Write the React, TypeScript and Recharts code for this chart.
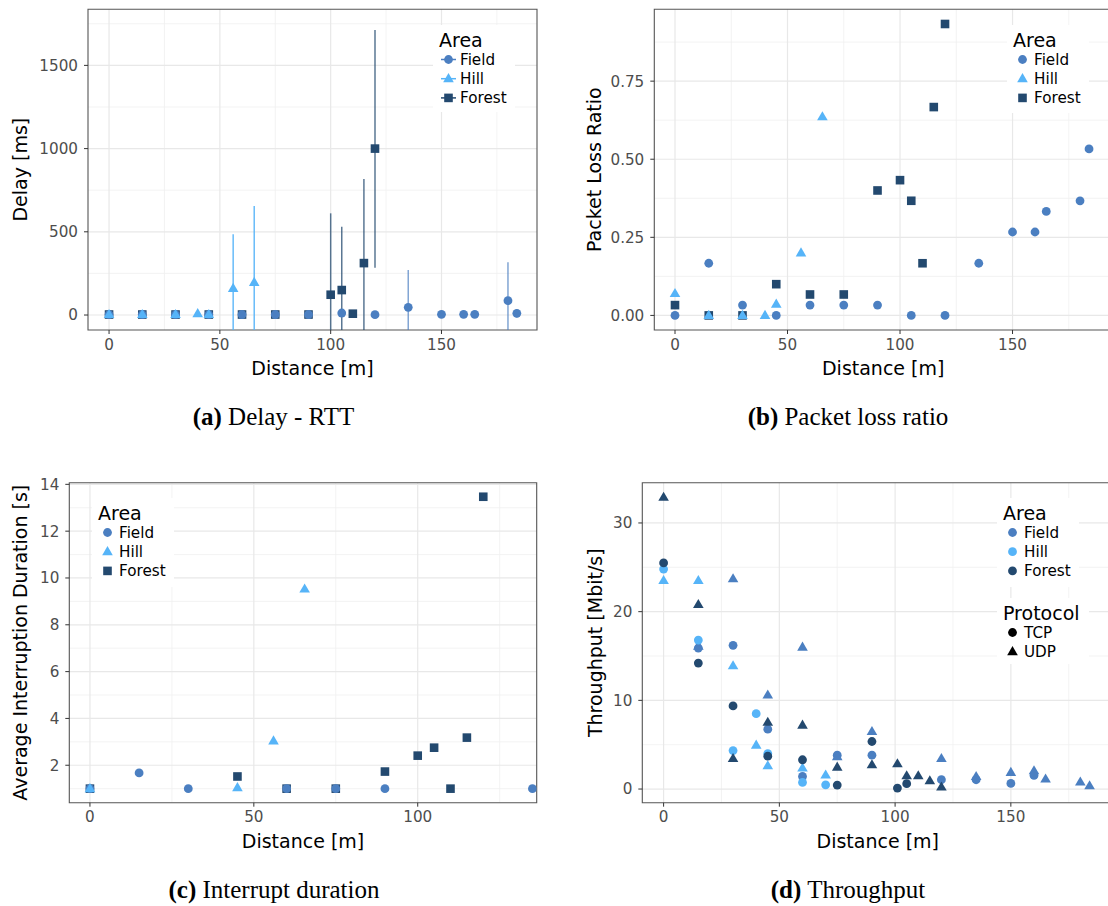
import React from "react";
import { CartesianGrid, ErrorBar, Legend, ReferenceArea, Scatter, ScatterChart, XAxis, YAxis } from "recharts";

const FIELD = "#4b7fc1";
const HILL = "#56b4f8";
const FOREST = "#23496f";
const FONT = "DejaVu Sans";
const SERIF = "Liberation Serif";

// (a) Delay - RTT [ms]; lo / hi are the ends of the error bars (cut at the panel bottom)
const delayFieldX = [0, 15, 30, 45, 60, 75, 90, 105, 120, 135, 150, 160, 165, 180, 184];
const delayFieldY = [3, 3, 3, 3, 3, 3, 3, 12, 2, 46, 4, 4, 4, 86, 10];
const delayFieldLo = [3, 3, 3, 3, 3, 3, 3, 12, 2, -90, 4, 4, 4, -90, -15];
const delayFieldHi = [3, 3, 3, 3, 3, 3, 3, 12, 2, 270, 4, 4, 4, 317, 35];
const delayHillX = [0, 15, 30, 40, 45, 56, 65.5];
const delayHillY = [3, 3, 3, 8, 3, 160, 196];
const delayHillLo = [3, 3, 3, 8, 3, -90, -90];
const delayHillHi = [3, 3, 3, 8, 3, 485, 655];
const delayForestX = [0, 15, 30, 45, 60, 75, 90, 100, 105, 110, 115, 120];
const delayForestY = [3, 3, 3, 3, 3, 3, 3, 122, 150, 8, 312, 1000];
const delayForestLo = [3, 3, 3, 3, 3, 3, 3, -90, -90, 8, -90, 284];
const delayForestHi = [3, 3, 3, 3, 3, 3, 3, 611, 531, 8, 817, 1713];

// (b) Packet loss ratio
const lossFieldX = [0, 15, 30, 45, 60, 75, 90, 105, 120, 135, 150, 160, 165, 180, 184];
const lossFieldY = [0, 0.167, 0.033, 0, 0.033, 0.033, 0.033, 0, 0, 0.167, 0.267, 0.267, 0.333, 0.367, 0.533];
const lossHillX = [0, 15, 30, 40, 45, 56, 65.5];
const lossHillY = [0.07, 0, 0, 0, 0.036, 0.2, 0.636];
const lossForestX = [0, 15, 30, 45, 60, 75, 90, 100, 105, 110, 115, 120];
const lossForestY = [0.033, 0, 0, 0.1, 0.067, 0.067, 0.4, 0.433, 0.367, 0.167, 0.667, 0.933];

// (c) Average interruption duration [s]
const intFieldX = [0, 15, 30, 60, 75, 90, 135];
const intFieldY = [1, 1.67, 1, 1, 1, 1, 1];
const intHillX = [0, 45, 56, 65.5];
const intHillY = [1, 1.04, 3.04, 9.53];
const intForestX = [0, 45, 60, 75, 90, 100, 105, 110, 115, 120];
const intForestY = [1, 1.52, 1, 1, 1.73, 2.41, 2.75, 1, 3.18, 13.47];

// (d) Throughput [Mbit/s]
const thrFieldTcpX = [15, 30, 45, 60, 75, 90, 120, 135, 150, 160];
const thrFieldTcpY = [15.9, 16.2, 6.75, 1.42, 3.82, 3.82, 1.05, 1.05, 0.63, 1.53];
const thrFieldUdpX = [15, 30, 45, 60, 75, 90, 120, 135, 150, 160, 165, 180, 184];
const thrFieldUdpY = [16.1, 23.7, 10.6, 16.0, 3.65, 6.48, 3.44, 1.4, 1.87, 2.06, 1.12, 0.79, 0.37];
const thrHillTcpX = [0, 15, 30, 40, 45, 60, 70];
const thrHillTcpY = [24.8, 16.8, 4.34, 8.5, 4.0, 0.75, 0.48];
const thrHillUdpX = [0, 15, 30, 40, 45, 60, 70];
const thrHillUdpY = [23.5, 23.5, 13.9, 4.95, 2.62, 2.36, 1.57];
const thrForestTcpX = [0, 15, 30, 45, 60, 75, 90, 101, 105];
const thrForestTcpY = [25.5, 14.2, 9.37, 3.71, 3.3, 0.45, 5.36, 0.11, 0.6];
const thrForestUdpX = [0, 15, 30, 45, 60, 75, 90, 101, 105, 110, 115, 120];
const thrForestUdpY = [32.9, 20.8, 3.44, 7.53, 7.2, 2.47, 2.73, 2.85, 1.5, 1.5, 0.93, 0.22];

const distTicks = [0, 50, 100, 150];
const distMinor = [25, 75, 125, 175];

type Shape = "circle" | "triangle" | "square";

function marker(shape: Shape, cx: number, cy: number, color: string) {
  if (shape === "circle") return <circle cx={cx} cy={cy} r={4.4} fill={color} />;
  if (shape === "square") return <rect x={cx - 4.3} y={cy - 4.3} width={8.6} height={8.6} fill={color} />;
  return <polygon points={`${cx},${cy - 5.6} ${cx + 5.3},${cy + 3.5} ${cx - 5.3},${cy + 3.5}`} fill={color} />;
}

const dot = (shape: Shape, color: string) => (p: any) =>
  p.cx == null ? <g /> : marker(shape, p.cx, p.cy, color);

const points = (xs: number[], ys: number[]) => xs.map((x, i) => ({ x, y: ys[i] }));
const withErr = (xs: number[], ys: number[], lo: number[], hi: number[]) =>
  xs.map((x, i) => ({ x, y: ys[i], err: [ys[i] - lo[i], hi[i] - ys[i]] }));

type Key = { label: string; shape: Shape; color: string };

const areaKeys: Key[] = [
  { label: "Field", shape: "circle", color: FIELD },
  { label: "Hill", shape: "triangle", color: HILL },
  { label: "Forest", shape: "square", color: FOREST },
];
const areaDots: Key[] = [
  { label: "Field", shape: "circle", color: FIELD },
  { label: "Hill", shape: "circle", color: HILL },
  { label: "Forest", shape: "circle", color: FOREST },
];
const protoKeys: Key[] = [
  { label: "TCP", shape: "circle", color: "#000" },
  { label: "UDP", shape: "triangle", color: "#000" },
];

function LegendGroup({ y, w, h, title, keys, line }: { y: number; w: number; h: number; title: string; keys: Key[]; line?: boolean }) {
  return (
    <g transform={`translate(0, ${y})`}>
      <rect x={0} y={0} width={w} height={h} fill="#fff" />
      <text x={6} y={21.5} fontSize={19} fontFamily={FONT} fill="#000">{title}</text>
      {keys.map((k, i) => {
        const cy = 34.5 + i * 19.2;
        return (
          <g key={k.label}>
            {line && <line x1={8} x2={23} y1={cy} y2={cy} stroke={k.color} strokeWidth={1.5} />}
            {marker(k.shape, 15.5, cy, k.color)}
            <text x={27} y={cy + 5.5} fontSize={15.2} fontFamily={FONT} fill="#000">{k.label}</text>
          </g>
        );
      })}
    </g>
  );
}

type PanelProps = {
  left: number;
  top: number;
  width: number;
  height: number;
  margin: { top: number; right: number; bottom: number; left: number };
  yWidth: number;
  yTitle: string;
  yTitleX: number;
  xDomain: [number, number];
  yDomain: [number, number];
  xTicks: number[];
  xMinor: number[];
  yTicks: number[];
  yMinor: number[];
  yFormat?: (v: number) => string;
  legendBox: { left: number; top: number; width: number; height: number };
  legend: React.ReactNode;
  children: React.ReactNode;
};

function Panel(p: PanelProps) {
  const tick = { fill: "#4d4d4d", fontSize: 15.2, fontFamily: FONT };
  return (
    <div style={{ position: "absolute", left: p.left, top: p.top }}>
      <ScatterChart width={p.width} height={p.height} margin={p.margin} style={{ fontFamily: FONT }}>
        <CartesianGrid verticalValues={p.xMinor} horizontalValues={p.yMinor} stroke="#f0f0f0" strokeWidth={0.8} />
        <CartesianGrid verticalValues={p.xTicks} horizontalValues={p.yTicks} stroke="#e8e8e8" strokeWidth={1.2} />
        <XAxis
          type="number"
          dataKey="x"
          domain={p.xDomain}
          ticks={p.xTicks}
          interval={0}
          allowDataOverflow
          axisLine={false}
          tickSize={4}
          tickMargin={5}
          tickLine={{ stroke: "#333" }}
          tick={tick}
          height={50}
          label={{
            content: (l: any) => (
              <text x={l.viewBox.x + l.viewBox.width / 2} y={l.viewBox.y + 45} textAnchor="middle" fontSize={19} fontFamily={FONT} fill="#000">
                Distance [m]
              </text>
            ),
          }}
        />
        <YAxis
          type="number"
          dataKey="y"
          domain={p.yDomain}
          ticks={p.yTicks}
          interval={0}
          allowDataOverflow
          axisLine={false}
          width={p.yWidth}
          tickSize={4}
          tickMargin={6}
          tickLine={{ stroke: "#333" }}
          tick={tick}
          tickFormatter={p.yFormat}
          label={{
            content: (l: any) => (
              <text
                transform={`translate(${p.yTitleX}, ${l.viewBox.y + l.viewBox.height / 2}) rotate(-90)`}
                textAnchor="middle"
                fontSize={19}
                fontFamily={FONT}
                fill="#000"
              >
                {p.yTitle}
              </text>
            ),
          }}
        />
        <ReferenceArea x1={p.xDomain[0]} x2={p.xDomain[1]} y1={p.yDomain[0]} y2={p.yDomain[1]} fill="none" stroke="#555" strokeWidth={1.1} ifOverflow="visible" />
        {p.children}
        <Legend
          layout="vertical"
          align="center"
          verticalAlign="middle"
          wrapperStyle={{ left: p.legendBox.left, top: p.legendBox.top, width: p.legendBox.width, height: p.legendBox.height }}
          content={() => (
            <svg width={p.legendBox.width} height={p.legendBox.height} style={{ display: "block" }}>
              {p.legend}
            </svg>
          )}
        />
      </ScatterChart>
    </div>
  );
}

function Caption({ cx, top, tag, text }: { cx: number; top: number; tag: string; text: string }) {
  return (
    <div
      style={{
        position: "absolute",
        left: cx - 200,
        top,
        width: 400,
        textAlign: "center",
        fontFamily: SERIF,
        fontSize: 25,
        lineHeight: "28px",
        color: "#000",
      }}
    >
      <b>{tag}</b> {text}
    </div>
  );
}

export default function App() {
  return (
    <div style={{ position: "absolute", left: 0, top: 0, width: 1108, height: 906, overflow: "hidden", background: "#fff" }}>
      <Panel
        left={0}
        top={0}
        width={550}
        height={400}
        margin={{ top: 9.3, right: 13, bottom: 20, left: 18 }}
        yWidth={70}
        yTitle="Delay [ms]"
        yTitleX={27}
        xDomain={[-9.5, 193.1]}
        yDomain={[-90, 1837]}
        xTicks={distTicks}
        xMinor={distMinor}
        yTicks={[0, 500, 1000, 1500]}
        yMinor={[250, 750, 1250, 1750]}
        legendBox={{ left: 433, top: 25, width: 82, height: 87 }}
        legend={<LegendGroup y={0} w={82} h={87} title="Area" keys={areaKeys} line />}
      >
        <Scatter data={withErr(delayForestX, delayForestY, delayForestLo, delayForestHi)} shape={dot("square", FOREST)} isAnimationActive={false}>
          <ErrorBar dataKey="err" direction="y" width={0} stroke={FOREST} strokeWidth={1.5} strokeOpacity={0.75} />
        </Scatter>
        <Scatter data={withErr(delayFieldX, delayFieldY, delayFieldLo, delayFieldHi)} shape={dot("circle", FIELD)} isAnimationActive={false}>
          <ErrorBar dataKey="err" direction="y" width={0} stroke={FIELD} strokeWidth={1.5} strokeOpacity={0.7} />
        </Scatter>
        <Scatter data={withErr(delayHillX, delayHillY, delayHillLo, delayHillHi)} shape={dot("triangle", HILL)} isAnimationActive={false}>
          <ErrorBar dataKey="err" direction="y" width={0} stroke={HILL} strokeWidth={1.5} strokeOpacity={0.9} />
        </Scatter>
      </Panel>

      <Panel
        left={560}
        top={0}
        width={570}
        height={400}
        margin={{ top: 9.3, right: 17.9, bottom: 20, left: 24.3 }}
        yWidth={70}
        yTitle="Packet Loss Ratio"
        yTitleX={40.6}
        xDomain={[-9.2, 194.25]}
        yDomain={[-0.0467, 0.98]}
        xTicks={distTicks}
        xMinor={distMinor}
        yTicks={[0, 0.25, 0.5, 0.75]}
        yMinor={[0.125, 0.375, 0.625, 0.875]}
        yFormat={(v: number) => v.toFixed(2)}
        legendBox={{ left: 446.7, top: 25, width: 82, height: 88 }}
        legend={<LegendGroup y={0} w={82} h={88} title="Area" keys={areaKeys} />}
      >
        <Scatter data={points(lossForestX, lossForestY)} shape={dot("square", FOREST)} isAnimationActive={false} />
        <Scatter data={points(lossFieldX, lossFieldY)} shape={dot("circle", FIELD)} isAnimationActive={false} />
        <Scatter data={points(lossHillX, lossHillY)} shape={dot("triangle", HILL)} isAnimationActive={false} />
      </Panel>

      <Panel
        left={0}
        top={470}
        width={550}
        height={400}
        margin={{ top: 12.7, right: 13.3, bottom: 17.3, left: 14.3 }}
        yWidth={55}
        yTitle="Average Interruption Duration [s]"
        yTitleX={27}
        xDomain={[-6.3, 136.3]}
        yDomain={[0.4, 14.07]}
        xTicks={[0, 50, 100]}
        xMinor={[25, 75, 125]}
        yTicks={[2, 4, 6, 8, 10, 12, 14]}
        yMinor={[1, 3, 5, 7, 9, 11, 13]}
        legendBox={{ left: 92, top: 27.5, width: 82, height: 89 }}
        legend={<LegendGroup y={0} w={82} h={89} title="Area" keys={areaKeys} />}
      >
        <Scatter data={points(intForestX, intForestY)} shape={dot("square", FOREST)} isAnimationActive={false} />
        <Scatter data={points(intFieldX, intFieldY)} shape={dot("circle", FIELD)} isAnimationActive={false} />
        <Scatter data={points(intHillX, intHillY)} shape={dot("triangle", HILL)} isAnimationActive={false} />
      </Panel>

      <Panel
        left={560}
        top={470}
        width={570}
        height={400}
        margin={{ top: 12.7, right: 16.7, bottom: 17.3, left: 22.3 }}
        yWidth={60}
        yTitle="Throughput [Mbit/s]"
        yTitleX={42}
        xDomain={[-9.2, 194.25]}
        yDomain={[-1.54, 34.54]}
        xTicks={distTicks}
        xMinor={distMinor}
        yTicks={[0, 10, 20, 30]}
        yMinor={[5, 15, 25]}
        legendBox={{ left: 436.7, top: 27.7, width: 92, height: 166 }}
        legend={
          <>
            <LegendGroup y={0} w={82} h={89} title="Area" keys={areaDots} />
            <LegendGroup y={100} w={92} h={66} title="Protocol" keys={protoKeys} />
          </>
        }
      >
        <Scatter data={points(thrFieldTcpX, thrFieldTcpY)} shape={dot("circle", FIELD)} isAnimationActive={false} />
        <Scatter data={points(thrFieldUdpX, thrFieldUdpY)} shape={dot("triangle", FIELD)} isAnimationActive={false} />
        <Scatter data={points(thrHillTcpX, thrHillTcpY)} shape={dot("circle", HILL)} isAnimationActive={false} />
        <Scatter data={points(thrHillUdpX, thrHillUdpY)} shape={dot("triangle", HILL)} isAnimationActive={false} />
        <Scatter data={points(thrForestTcpX, thrForestTcpY)} shape={dot("circle", FOREST)} isAnimationActive={false} />
        <Scatter data={points(thrForestUdpX, thrForestUdpY)} shape={dot("triangle", FOREST)} isAnimationActive={false} />
      </Panel>

      <Caption cx={273.5} top={403} tag="(a)" text="Delay - RTT" />
      <Caption cx={848} top={403} tag="(b)" text="Packet loss ratio" />
      <Caption cx={274} top={876} tag="(c)" text="Interrupt duration" />
      <Caption cx={848} top={876} tag="(d)" text="Throughput" />
    </div>
  );
}
